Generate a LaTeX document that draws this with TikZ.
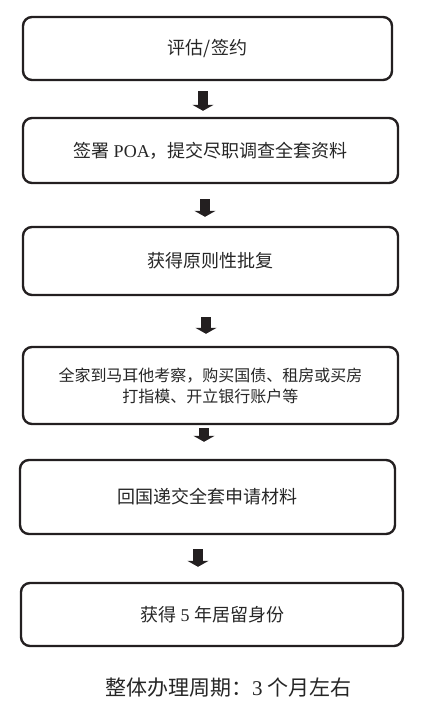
\documentclass[tikz,border=0pt]{standalone}
\usepackage{fontspec}
\setmainfont{Liberation Serif}
\newfontfamily\cjk{Noto Sans CJK SC}
\usetikzlibrary{arrows.meta}

\newcommand\stepfont{\fontsize{18pt}{22pt}\selectfont}
\newcommand\smallstepfont{\fontsize{16pt}{21pt}\selectfont}
\newcommand\periodfont{\fontsize{21pt}{25pt}\selectfont}

\begin{document}
\begin{tikzpicture}[
    x=1pt, y=-1pt,
    stepbox/.style={rectangle, rounded corners=9pt, draw=boxline, line width=2.4pt, align=center, text=black!85, font=\stepfont},
    flow/.style={draw=boxline, line width=10pt, -{Triangle[width=21pt,length=6pt]}}
]
\definecolor{boxline}{RGB}{35,31,32}
\useasboundingbox (0,0) rectangle (426,705);

\node[stepbox, minimum width=369pt, minimum height=63pt] (assess) at (207.5, 48.5) {\cjk 评估/签约};
\node[stepbox, minimum width=375pt, minimum height=65pt] (poa) at (210.5, 150.5) {{\cjk 签署} POA{\cjk ，提交尽职调查全套资料}};
\node[stepbox, minimum width=375pt, minimum height=68pt] (approval) at (210.5, 261) {\cjk 获得原则性批复};
\node[stepbox, minimum width=375pt, minimum height=77pt, font=\smallstepfont] (visit) at (210.5, 385.5) {\cjk 全家到马耳他考察，购买国债、租房或买房\\\cjk 打指模、开立银行账户等};
\node[stepbox, minimum width=375pt, minimum height=74pt] (submit) at (207.5, 497) {\cjk 回国递交全套申请材料};
\node[stepbox, minimum width=382pt, minimum height=63pt] (residence) at (212, 614.5) {{\cjk 获得} 5 {\cjk 年居留身份}};

\node[font=\periodfont, text=black!85] (period) at (228.5, 688) {{\cjk 整体办理周期：}3 {\cjk 个月左右}};

% block arrows between the steps
\draw[flow, shorten <=10pt, shorten >=6pt] ([xshift=-4.5pt]assess.south) -- ([xshift=-7.5pt]poa.north);
\draw[flow, shorten <=15pt, shorten >=9pt] ([xshift=-5.5pt]poa.south) -- ([xshift=-5.5pt]approval.north);
\draw[flow, shorten <=21pt, shorten >=12pt] ([xshift=-4.5pt]approval.south) -- ([xshift=-4.5pt]visit.north);
\draw[flow, shorten <=3pt, shorten >=17pt] ([xshift=-6.5pt]visit.south) -- ([xshift=-3.5pt]submit.north);
\draw[flow, shorten <=14pt, shorten >=15pt] ([xshift=-9.5pt]submit.south) -- ([xshift=-14pt]residence.north);
\end{tikzpicture}
\end{document}
